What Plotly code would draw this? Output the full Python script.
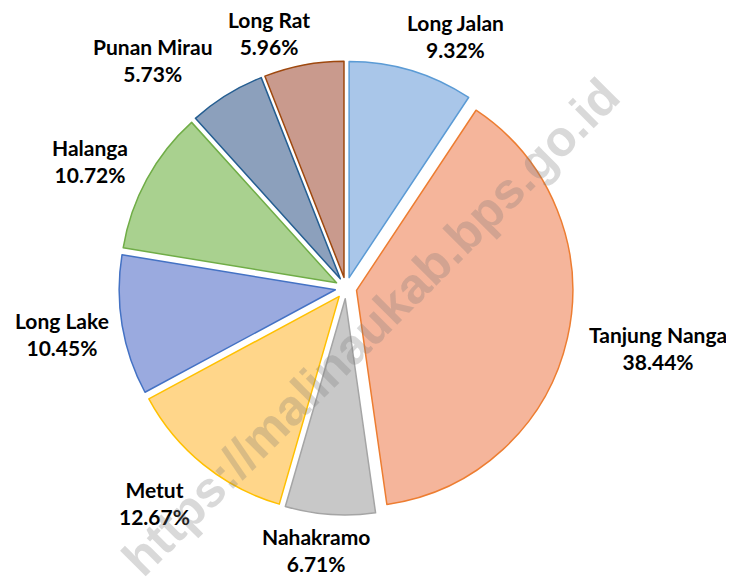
import math
import plotly.graph_objects as go

labels = ["Long Jalan", "Tanjung Nanga", "Nahakramo", "Metut", "Long Lake",
          "Halanga", "Punan Mirau", "Long Rat"]
values = [9.32, 38.44, 6.71, 12.67, 10.45, 10.72, 5.73, 5.96]

# styles
fill_colors = ["#a9c6e9", "#f5b59b", "#c8c8c8", "#ffd68a", "#9aaadf",
               "#a9d18f", "#8ca0bc", "#c99a8d"]
line_colors = ["#5b9bd5", "#ed7d31", "#a5a5a5", "#ffc000", "#4472c4",
               "#70ad47", "#255e91", "#9e480e"]
pull = 0.05
# label placement tweaks (angle shift in degrees, radial distance in px)
label_shift = [6.8, -1.8, 2.5, 2.7, 0.3, -2.2, -8.6, -6.1]
label_dist = [275, 318, 264, 288, 288, 286, 299, 266]

W, H = 734, 577
PAGE_OFF = 8  # default body margin of the html page
cx, cy, R = 346 - PAGE_OFF, 288 - PAGE_OFF, 227

fig = go.Figure(go.Pie(
    labels=labels,
    values=values,
    sort=False,
    direction="clockwise",
    rotation=0,
    pull=[pull] * len(values),
    marker=dict(colors=fill_colors, line=dict(color=line_colors, width=1.5)),
    textinfo="none",
    showlegend=False,
    hoverinfo="label+percent",
    domain=dict(x=[(cx - R) / W, (cx + R) / W],
                y=[(H - cy - R) / H, (H - cy + R) / H]),
))

total = sum(values)
cum = 0.0
for lab, v, sh, d in zip(labels, values, label_shift, label_dist):
    mid = (cum + v / 2) / total * 360.0
    cum += v
    a = math.radians(mid + sh)
    px = cx + d * math.sin(a)
    py = cy - d * math.cos(a)
    fig.add_annotation(
        text=f"<b>{lab}</b><br><b>{v / total * 100:.2f}%</b>",
        x=px / W, y=1 - py / H, xref="paper", yref="paper",
        xanchor="center", yanchor="middle", showarrow=False, align="center",
        font=dict(family="Lato", size=21, color="#000000"),
    )

fig.add_annotation(
    text="<b>https://malinaukab.bps.go.id</b>",
    x=(371 - PAGE_OFF) / W, y=1 - (327 - PAGE_OFF) / H, xref="paper", yref="paper",
    xanchor="center", yanchor="middle",
    showarrow=False, textangle=-45,
    font=dict(family="Liberation Sans", size=50, color="rgba(120,120,120,0.28)"),
)

fig.update_layout(
    width=W, height=H,
    margin=dict(l=0, r=0, t=0, b=0),
    paper_bgcolor="white", plot_bgcolor="white",
)

fig.write_html("out.html")
